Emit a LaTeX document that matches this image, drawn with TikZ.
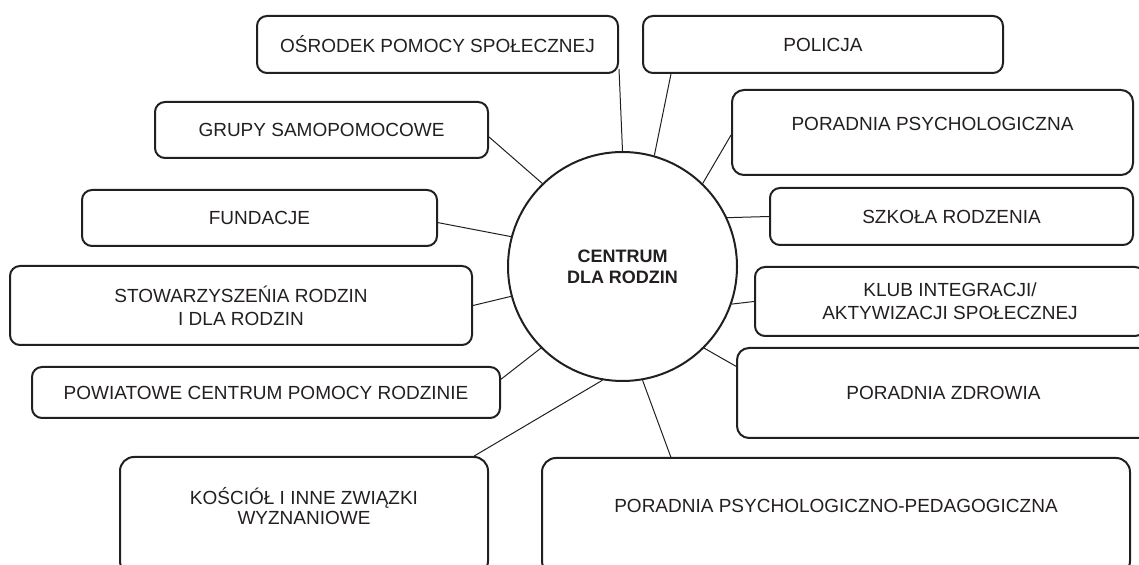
\documentclass[tikz,border=0pt]{standalone}
\usepackage{fontspec}
\setmainfont{Liberation Sans}
\usetikzlibrary{calc}
\definecolor{ink}{HTML}{231F20}

\begin{document}
\begin{tikzpicture}[x=0.5pt,y=-0.5pt,
	orgbox/.style={draw=ink,line width=1pt,rounded corners=5pt,inner sep=0pt,align=center,text=ink,font=\fontsize{9.5}{11.5}\selectfont},
	boxtext/.style={align=center,text=ink,inner sep=0pt,font=\fontsize{9.5}{10}\selectfont},
	hub/.style={draw=ink,circle,line width=1pt,minimum size=114.5pt,inner sep=0pt,align=center,text=ink,font=\fontsize{9}{10.5}\selectfont\bfseries},
	conn/.style={draw=ink,line width=.5pt}]
	\useasboundingbox (0,0) rectangle (1139,565);
	\clip (0,0) rectangle (1139,565);
	% centre
	\node[hub] (hub) at (622.5,266.5) {CENTRUM\\DLA RODZIN};
	% left side
	\node[orgbox,minimum width=180.5pt,minimum height=28.5pt] (osp) at (437.5,44.5) {OŚRODEK POMOCY SPOŁECZNEJ};
	\node[orgbox,minimum width=166.5pt,minimum height=28pt] (grupy) at (321.5,130) {GRUPY SAMOPOMOCOWE};
	\node[orgbox,minimum width=177.5pt,minimum height=28pt] (fund) at (259.5,218) {FUNDACJE};
	\node[orgbox,minimum width=231pt,minimum height=39.5pt] (stow) at (241,305.5) {STOWARZYSZEŃIA RODZIN\\I DLA RODZIN};
	\node[orgbox,minimum width=234pt,minimum height=25.5pt] (powiat) at (266,392.5) {POWIATOWE CENTRUM POMOCY RODZINIE};
	\node[orgbox,rounded corners=7pt,minimum width=184pt,minimum height=59pt] (kosciol) at (304,516) {};
	\node[boxtext] (kosciol-t) at ([yshift=5pt]kosciol.center) {KOŚCIÓŁ I INNE ZWIĄZKI\\WYZNANIOWE};
	% right side
	\node[orgbox,minimum width=180pt,minimum height=28.5pt] (policja) at (823,44.5) {POLICJA};
	\node[orgbox,rounded corners=6pt,minimum width=200.5pt,minimum height=42.5pt] (pp) at (932.5,132.5) {};
	\node[boxtext] (pp-t) at ([yshift=4.5pt]pp.center) {PORADNIA PSYCHOLOGICZNA};
	\node[orgbox,minimum width=181.5pt,minimum height=28.5pt] (szkola) at (951.5,216.5) {SZKOŁA RODZENIA};
	\node[orgbox,minimum width=195pt,minimum height=34.5pt] (klub) at (950,301.5) {KLUB INTEGRACJI/\\AKTYWIZACJI SPOŁECZNEJ};
	\node[orgbox,rounded corners=6pt,minimum width=206.5pt,minimum height=45pt] (pz) at (943.5,393) {PORADNIA ZDROWIA};
	\node[orgbox,rounded corners=7pt,minimum width=294pt,minimum height=58.5pt] (ppp) at (836,516.5) {};
	\node[boxtext] (ppp-t) at ([yshift=5.5pt]ppp.center) {PORADNIA PSYCHOLOGICZNO-PEDAGOGICZNA};
	% connectors
	\draw[conn] ([yshift=2.5pt]osp.south east) -- (hub.north);
	\draw[conn] ($(policja.south west)!.08!(policja.south east)$) -- (hub.74);
	\draw[conn] ($(grupy.north east)!.62!(grupy.south east)$) -- (hub.134);
	\draw[conn] ($(pp.north west)!.53!(pp.south west)$) -- (hub.46);
	\draw[conn] ($(fund.north east)!.58!(fund.south east)$) -- (hub.165);
	\draw[conn] (szkola.west) -- (hub.25);
	\draw[conn] (stow.east) -- (hub.195);
	\draw[conn] (klub.west) -- (hub.-19);
	\draw[conn] ($(powiat.north east)!.25!(powiat.south east)$) -- (hub.225);
	\draw[conn] ($(pz.north west)!.21!(pz.south west)$) -- (hub.-45);
	\draw[conn] ($(kosciol.north west)!.96!(kosciol.north east)$) -- (hub.260);
	\draw[conn] ($(ppp.north west)!.22!(ppp.north east)$) -- (hub.-80);
\end{tikzpicture}
\end{document}
